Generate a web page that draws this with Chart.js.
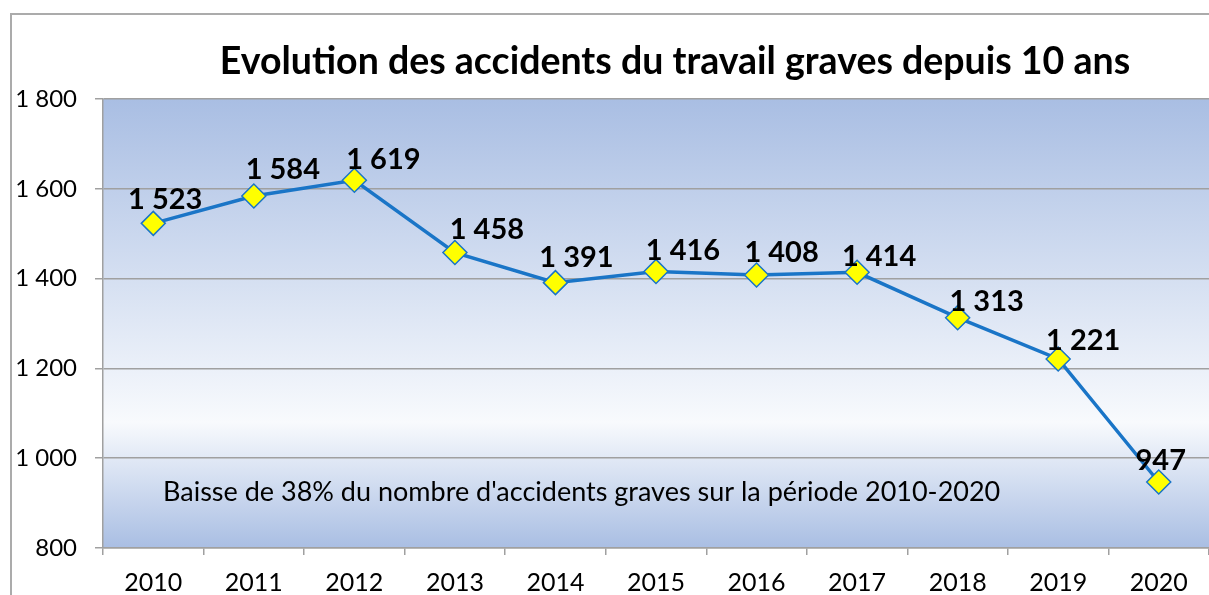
<!DOCTYPE html>
<html>
<head>
<meta charset="utf-8">
<script src="https://cdn.jsdelivr.net/npm/chart.js@4/dist/chart.umd.min.js"></script>
<style>
  html, body { margin: 0; padding: 0; background: #fff; }
  #wrap { width: 1209px; height: 595px; }
</style>
</head>
<body>
<div id="wrap"><canvas id="accidents" width="1209" height="595"></canvas></div>
<script>
const annees = ['2010','2011','2012','2013','2014','2015','2016','2017','2018','2019','2020'];
const accidents = [1523, 1584, 1619, 1458, 1391, 1416, 1408, 1414, 1313, 1221, 947];
const yTicks = [800, 1000, 1200, 1400, 1600, 1800];
const titre = 'Evolution des accidents du travail graves depuis 10 ans';
const note = "Baisse de 38% du nombre d'accidents graves sur la période 2010-2020";

// decalage des etiquettes (x, y) par rapport au point, comme dans le graphique Excel
const labelShift = [[12,-24],[29,-26],[29,-21],[32,-23],[21,-25],[27,-21],[25,-22],[22,-16],[29,-16],[25,-18],[2,-21]];

function fmt(v) {
  if (v < 1000) return String(v);
  return Math.floor(v / 1000) + ' ' + String(v % 1000).padStart(3, '0');
}

Chart.defaults.font.family = 'Lato';
Chart.defaults.color = '#000';

const decor = {
  id: 'decor',
  beforeDraw(chart) {
    const { ctx, chartArea: a } = chart;
    ctx.save();
    // fond degrade de la zone de tracé
    const g = ctx.createLinearGradient(0, a.top, 0, a.bottom);
    g.addColorStop(0, '#A9BEE3');
    g.addColorStop(0.72, '#F8FAFD');
    g.addColorStop(1, '#A9BEE3');
    ctx.fillStyle = g;
    ctx.fillRect(a.left, a.top, a.right - a.left, a.bottom - a.top);
    // cadre exterieur
    ctx.strokeStyle = '#ABABAB';
    ctx.lineWidth = 2;
    ctx.beginPath();
    ctx.moveTo(11, 600);
    ctx.lineTo(11, 14);
    ctx.lineTo(1210, 14);
    ctx.stroke();
    ctx.restore();
  },
  afterDraw(chart) {
    const { ctx, chartArea: a } = chart;
    const y = chart.scales.y;
    ctx.save();
    ctx.fillStyle = '#000';
    ctx.font = 'bold 37.5px Lato';
    ctx.textAlign = 'center';
    ctx.textBaseline = 'middle';
    ctx.fillText(titre, 675, 62);

    ctx.font = '27px Lato';
    ctx.textAlign = 'left';
    ctx.fillText(note, a.left + 60, y.getPixelForValue(924));

    ctx.font = 'bold 29px Lato';
    ctx.textAlign = 'center';
    const pts = chart.getDatasetMeta(0).data;
    pts.forEach((p, i) => {
      ctx.fillText(fmt(accidents[i]), p.x + labelShift[i][0], p.y + labelShift[i][1]);
    });
    ctx.restore();
  }
};

new Chart(document.getElementById('accidents'), {
  type: 'line',
  data: {
    labels: annees,
    datasets: [{
      data: accidents,
      borderColor: '#1A75C7',
      borderWidth: 3.5,
      pointStyle: 'rectRot',
      pointRadius: 12,
      pointHoverRadius: 12,
      pointBackgroundColor: '#FFFF00',
      pointBorderColor: '#1A75C7',
      pointBorderWidth: 1.5,
      tension: 0
    }]
  },
  options: {
    responsive: false,
    animation: false,
    layout: { autoPadding: false, padding: { top: 99, left: 0, right: 0, bottom: 0 } },
    plugins: {
      legend: { display: false },
      tooltip: { enabled: false }
    },
    scales: {
      x: {
        offset: true,
        grid: { display: true, drawOnChartArea: false, color: '#A0A0A0', lineWidth: 1.5, tickLength: 7, offset: true },
        border: { color: '#A0A0A0', width: 1.5 },
        ticks: { font: { size: 25 }, padding: 13, maxRotation: 0 },
        afterFit(s) { s.height = 47; s.paddingLeft = 0; s.paddingRight = 0; }
      },
      y: {
        min: 800,
        max: 1800,
        afterBuildTicks(s) { s.ticks = yTicks.map(v => ({ value: v })); },
        grid: { color: '#A0A0A0', lineWidth: 1.5, tickLength: 8 },
        border: { color: '#A0A0A0', width: 1.5 },
        ticks: { font: { size: 24 }, padding: 18, callback: v => fmt(v) },
        afterFit(s) { s.width = 103; }
      }
    }
  },
  plugins: [decor]
});
</script>
</body>
</html>
